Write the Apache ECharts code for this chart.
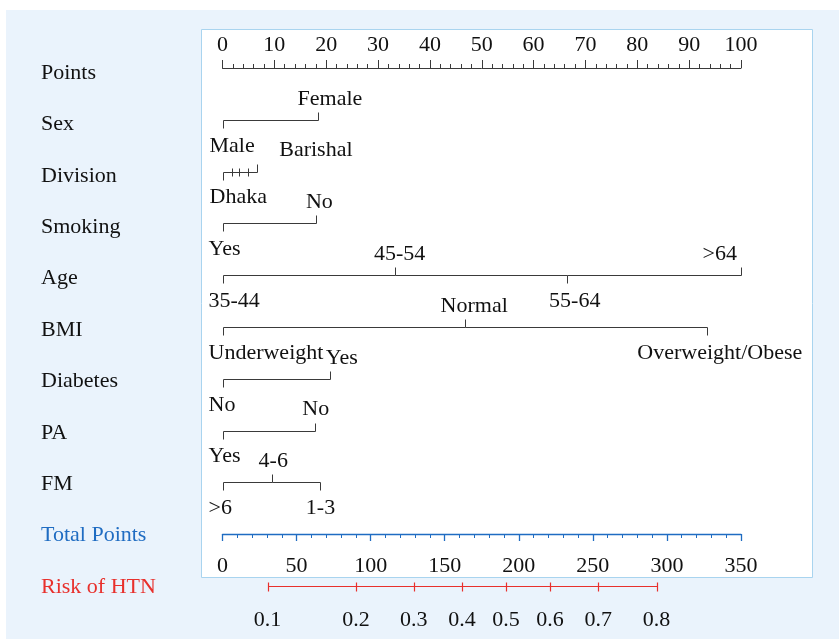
<!DOCTYPE html>
<html><head><meta charset="utf-8">
<script src="https://cdn.jsdelivr.net/npm/echarts@6/dist/echarts.min.js"></script>
<style>html,body{margin:0;padding:0;background:#fff}#c{width:839px;height:639px}</style>
</head><body><div id="c"></div>
<script>
// ---------- data ----------
const rowNames = ['Points','Sex','Division','Smoking','Age','BMI','Diabetes','PA','FM','Total Points','Risk of HTN'];
const pointsMax = 100;
const pointsStep = 10;
const totalPointsMax = 350;
const totalPointsStep = 50;

const sexLevels = ['Male','Female'];
const sexPoints = [0, 18.4];
const divisionLevels = ['Dhaka','','','','Barishal'];
const divisionPoints = [0, 1.8, 3.2, 5.0, 6.7];
const smokingLevels = ['Yes','No'];
const smokingPoints = [0, 18.1];
const ageLevels = ['35-44','45-54','55-64','>64'];
const agePoints = [0, 33.2, 66.4, 100];
const bmiLevels = ['Underweight','Normal','Overweight/Obese'];
const bmiPoints = [0, 46.8, 93.4];
const diabetesLevels = ['No','Yes'];
const diabetesPoints = [0, 20.7];
const paLevels = ['Yes','No'];
const paPoints = [0, 17.8];
const fmLevels = ['>6','4-6','1-3'];
const fmPoints = [0, 9.6, 18.9];

const riskLabels = ['0.1','0.2','0.3','0.4','0.5','0.6','0.7','0.8'];
const riskTotalPoints = [30.4, 90.1, 129.1, 161.7, 191.4, 221.1, 253.6, 293.0];

// ---------- style ----------
const FONT_FAMILY = '"Liberation Serif", "Times New Roman", serif';
const FONT_SIZE = 22;
const FONT = FONT_SIZE + 'px ' + FONT_FAMILY;
const INK = '#111';
const LINE = '#3a3a3a';
const BLUE = '#1f6cc2';
const RED = '#e8302c';

// label side: a = above, b = below, x = crossing tick (no label)
const labelSide = {
  Sex: ['b','a'], Division: ['b','x','x','x','a'], Smoking: ['b','a'],
  Age: ['b','a','b','a'], BMI: ['b','a','b'], Diabetes: ['b','a'], PA: ['b','a'], FM: ['b','a','b']
};
// label alignment + horizontal nudge (px)
const labelAdj = {
  Sex: [['left',-13],['center',12]],
  Division: [['left',-13],null,null,null,['left',22]],
  Smoking: [['left',-14],['center',3]],
  Age: [['left',-14],['center',5],['center',8],['right',-4]],
  BMI: [['left',-14],['center',9],['center',13]],
  Diabetes: [['left',-14],['center',12]],
  PA: [['left',-14],['center',1]],
  FM: [['left',-14],['center',1],['center',0]]
};
const ABOVE_DY = -21, BELOW_DY = 26;

function txt(text, x, y, align, color) {
  return {type:'text', style:{text:text, x:x, y:y, font:FONT, fill:color||INK,
    textAlign:align, align:align, textVerticalAlign:'middle', verticalAlign:'middle'}};
}

function makeRow(row, levels, pts) {
  const sides = labelSide[row], adj = labelAdj[row];
  return {
    type:'custom', xAxisIndex:0, yAxisIndex:0, clip:false, silent:true, z:5,
    data: pts.map(p => [p, row]),
    renderItem: function (params, api) {
      const i = params.dataIndex;
      const p = api.coord([pts[i], row]);
      const x = Math.round(p[0]) + 0.5, y = Math.round(p[1]) + 0.5;
      const ch = [];
      if (i > 0) {
        const q = api.coord([pts[i-1], row]);
        ch.push({type:'line', shape:{x1:Math.round(q[0])+0.5, y1:y, x2:x, y2:y}, style:{stroke:LINE, lineWidth:1}});
      }
      const s = sides[i];
      let y1, y2;
      if (s === 'a') { y1 = y - 8; y2 = y; }
      else if (s === 'b') { y1 = y; y2 = y + 8; }
      else { y1 = y - 4; y2 = y + 4; }
      ch.push({type:'line', shape:{x1:x, y1:y1, x2:x, y2:y2}, style:{stroke:LINE, lineWidth:1}});
      if (levels[i] && adj[i]) {
        const ty = s === 'a' ? p[1] + ABOVE_DY : p[1] + BELOW_DY;
        ch.push(txt(levels[i], p[0] + adj[i][1], ty, adj[i][0]));
      }
      return {type:'group', children:ch};
    }
  };
}

const riskSeries = {
  type:'custom', xAxisIndex:1, yAxisIndex:0, clip:false, silent:true, z:5,
  data: riskTotalPoints.map(v => [v, 'Risk of HTN']),
  renderItem: function (params, api) {
    const i = params.dataIndex;
    const p = api.coord([riskTotalPoints[i], 'Risk of HTN']);
    const x = Math.round(p[0]) + 0.5, y = Math.round(p[1]) + 0.5;
    const ch = [];
    if (i > 0) {
      const q = api.coord([riskTotalPoints[i-1], 'Risk of HTN']);
      ch.push({type:'line', shape:{x1:Math.round(q[0])+0.5, y1:y, x2:x, y2:y}, style:{stroke:RED, lineWidth:1.2}});
    }
    ch.push({type:'line', shape:{x1:x, y1:y-4, x2:x, y2:y+5}, style:{stroke:RED, lineWidth:1.2}});
    ch.push(txt(riskLabels[i], p[0], p[1] + 34, 'center'));
    return {type:'group', children:ch};
  }
};

const chart = echarts.init(document.getElementById('c'), null, {renderer:'canvas'});
chart.setOption({
  backgroundColor:'#ffffff',
  animation:false,
  graphic:[
    {type:'rect', z:-20, silent:true, shape:{x:6, y:10, width:833, height:629}, style:{fill:'#eaf3fc'}},
    {type:'rect', z:-19, silent:true, shape:{x:201.5, y:29.5, width:611, height:548}, style:{fill:'#ffffff', stroke:'#a9d4ef', lineWidth:1}}
  ],
  grid:[
    {left:222.5, right:98, top:68, bottom:53, containLabel:false, outerBoundsMode:'none'},
    {left:222.5, right:98, top:73, bottom:52, containLabel:false, outerBoundsMode:'none'}
  ],
  xAxis:[
    {type:'value', gridIndex:0, position:'top', min:0, max:pointsMax, interval:pointsStep,
     axisLine:{show:true, lineStyle:{color:LINE, width:1}},
     axisTick:{show:true, length:8, lineStyle:{color:LINE, width:1}},
     minorTick:{show:true, splitNumber:5, length:4, lineStyle:{color:LINE, width:1}},
     axisLabel:{fontSize:FONT_SIZE, fontFamily:FONT_FAMILY, color:INK, margin:12},
     splitLine:{show:false}, minorSplitLine:{show:false}},
    {type:'value', gridIndex:0, position:'bottom', offset:-52, min:0, max:totalPointsMax, interval:totalPointsStep,
     axisLine:{show:true, lineStyle:{color:BLUE, width:1.3}},
     axisTick:{show:true, length:7, lineStyle:{color:BLUE, width:1.3}},
     minorTick:{show:true, splitNumber:5, length:4, lineStyle:{color:BLUE, width:1}},
     axisLabel:{fontSize:FONT_SIZE, fontFamily:FONT_FAMILY, color:INK, margin:21},
     splitLine:{show:false}, minorSplitLine:{show:false}},
    {type:'value', gridIndex:1, show:false, min:0, max:pointsMax}
  ],
  yAxis:[
    {type:'category', gridIndex:0, data:rowNames, inverse:true, boundaryGap:false, show:false},
    {type:'category', gridIndex:1, data:rowNames, inverse:true, boundaryGap:false,
     axisLine:{show:false}, axisTick:{show:false}, splitLine:{show:false},
     axisLabel:{align:'left', margin:181.5, fontSize:FONT_SIZE, fontFamily:FONT_FAMILY,
       color:function (v) { return v === 'Total Points' ? BLUE : (v === 'Risk of HTN' ? RED : INK); }}}
  ],
  series:[
    makeRow('Sex', sexLevels, sexPoints),
    makeRow('Division', divisionLevels, divisionPoints),
    makeRow('Smoking', smokingLevels, smokingPoints),
    makeRow('Age', ageLevels, agePoints),
    makeRow('BMI', bmiLevels, bmiPoints),
    makeRow('Diabetes', diabetesLevels, diabetesPoints),
    makeRow('PA', paLevels, paPoints),
    makeRow('FM', fmLevels, fmPoints),
    riskSeries
  ]
});
</script></body></html>
